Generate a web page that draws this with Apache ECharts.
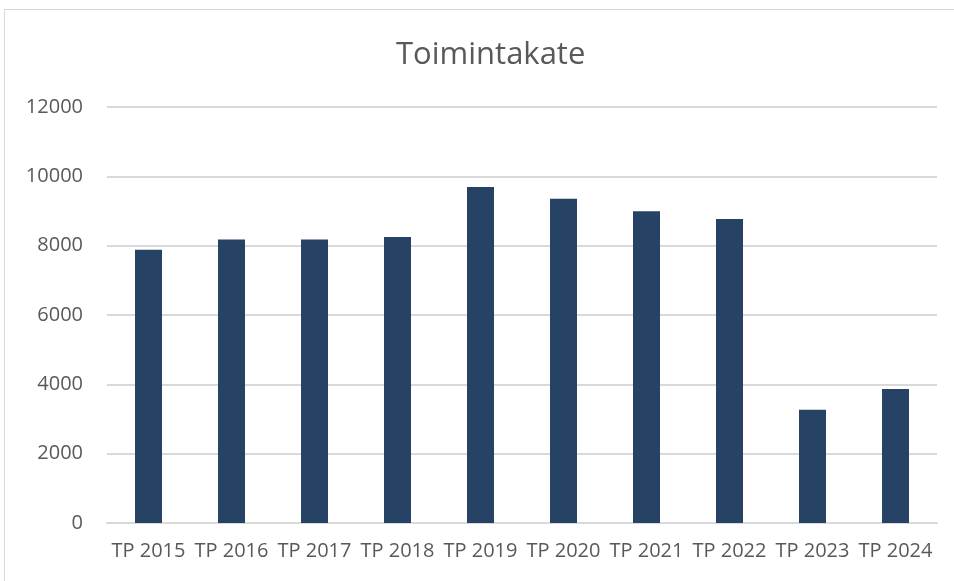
<!DOCTYPE html>
<html>
<head>
<meta charset="utf-8">
<script src="https://cdn.jsdelivr.net/npm/echarts@6/dist/echarts.min.js"></script>
<style>
html, body { margin: 0; padding: 0; background: #fff; }
#frame { position: absolute; left: 4px; top: 9px; width: 970px; height: 600px; border: 1px solid #d9d9d9; }
#main { position: absolute; left: 0; top: 0; width: 954px; height: 581px; }
</style>
</head>
<body>
<div id="frame"></div>
<div id="main"></div>
<script type="text/javascript">
// vuodet ja toimintakate
var categories = ['TP 2015', 'TP 2016', 'TP 2017', 'TP 2018', 'TP 2019', 'TP 2020', 'TP 2021', 'TP 2022', 'TP 2023', 'TP 2024'];
var values = [7880, 8180, 8180, 8250, 9690, 9355, 8990, 8770, 3270, 3865];

var font = '"Open Sans", sans-serif';
var chart = echarts.init(document.getElementById('main'));
chart.setOption({
	animation: false,
	title: {
		text: 'Toimintakate',
		left: 391,
		top: 35,
		textStyle: { color: '#595959', fontSize: 31, fontWeight: 'normal', fontFamily: font }
	},
	grid: { left: 107, right: 17, top: 107, bottom: 58 },
	xAxis: {
		type: 'category',
		data: categories,
		axisLine: { lineStyle: { color: '#d9d9d9', width: 2 } },
		axisTick: { show: false },
		axisLabel: { color: '#595959', fontSize: 20, fontFamily: font, margin: 18, interval: 0 }
	},
	yAxis: {
		type: 'value',
		min: 0,
		max: 12000,
		interval: 2000,
		axisLine: { show: false },
		axisTick: { show: false },
		splitLine: { lineStyle: { color: '#d9d9d9', width: 2 } },
		axisLabel: { color: '#595959', fontSize: 20, fontFamily: font, margin: 24, formatter: function (v) { return String(v); } }
	},
	series: [{
		type: 'bar',
		data: values,
		barWidth: 27,
		itemStyle: { color: '#264265' }
	}]
});
</script>
</body>
</html>
